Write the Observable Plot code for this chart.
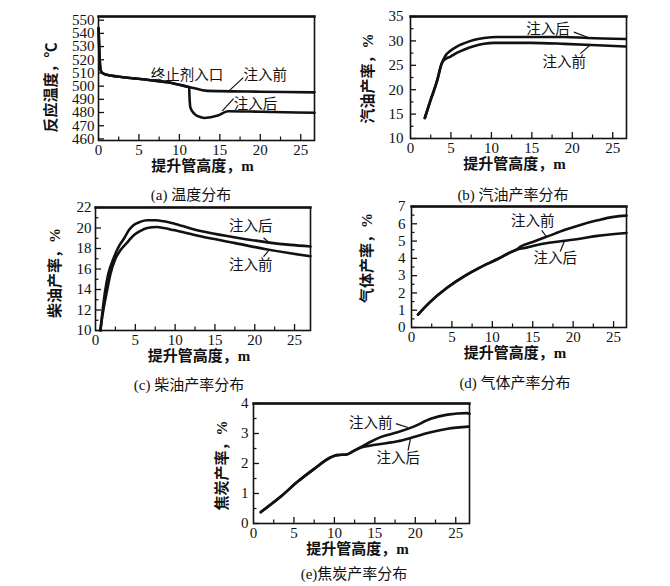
<!DOCTYPE html>
<html>
<head>
<meta charset="utf-8">
<script src="https://cdn.jsdelivr.net/npm/d3@7"></script>
<script src="https://cdn.jsdelivr.net/npm/@observablehq/plot@0.6"></script>
<style>
  html, body { margin: 0; padding: 0; background: #fff; }
  #root { position: relative; width: 670px; height: 586px; overflow: hidden; background: #fff; }
  .cap { position: absolute; transform: translate(-50%, -50%); white-space: nowrap;
         font-family: 'Liberation Serif', 'Noto Sans CJK SC', serif; font-size: 15px; color: #111; }
</style>
</head>
<body>
<div id="root"></div>
<script>
// ---------------- data ----------------
// (a) temperature, °C
const tempBeforeX = [0, 0.05, 0.15, 0.3, 0.6, 1.5, 3, 4.4, 6.5, 8.5, 10, 11, 12, 13.2, 15, 20, 26.7];
const tempBefore  = [544, 536, 520, 511.5, 509.5, 508, 506.8, 505.9, 504.5, 502.9, 501, 499.6, 498.2, 496.6, 496.2, 495.8, 495.3];
const tempAfterX  = [0, 0.05, 0.15, 0.3, 0.6, 1.5, 3, 4.4, 6.5, 8.5, 10, 11, 11.2, 11.25, 11.35, 11.85, 12.67, 13.1, 14.75, 16, 20, 26.7];
const tempAfter   = [544, 536, 520, 511.5, 509.5, 508, 506.8, 505.9, 504.5, 502.9, 501, 499.6, 499.3, 492, 484, 479, 476.4, 475.9, 477.7, 481, 480.6, 479.8];
// (b) gasoline yield, %
const gasBeforeX = [1.77, 2.47, 3.3, 3.84, 4.1, 4.95, 5.78, 6.6, 7.8, 9.1, 10.3, 14.8, 19, 23.1, 26.6];
const gasBefore  = [14.2, 17.8, 21.9, 25.3, 26.0, 26.8, 27.6, 28.2, 28.9, 29.4, 29.6, 29.6, 29.4, 29.1, 28.85];
const gasAfterX  = [1.77, 2.47, 3.3, 3.84, 4.34, 4.95, 5.78, 6.6, 7.8, 9.1, 10.7, 19, 21.9, 26.6];
const gasAfter   = [14.2, 17.8, 21.9, 25.3, 27.0, 28.0, 28.9, 29.5, 30.2, 30.6, 30.8, 30.8, 30.6, 30.4];
// (c) diesel yield, %
const dieselBeforeX = [0.6, 0.84, 1.05, 1.45, 1.87, 2.5, 3.1, 4.0, 4.8, 5.6, 6.5, 7.7, 8.6, 9.8, 13.2, 17.4, 21.6, 27];
const dieselBefore  = [10, 11.3, 12.3, 13.9, 15.5, 17.0, 17.8, 18.6, 19.3, 19.7, 20.0, 20.1, 20.0, 19.8, 19.2, 18.55, 17.9, 17.25];
const dieselAfterX  = [0.62, 0.9, 1.2, 1.6, 2.3, 3.0, 3.6, 4.2, 4.8, 5.6, 6.5, 7.5, 8.6, 10, 13.2, 17.4, 21.6, 24.5, 27];
const dieselAfter   = [10, 12, 13.8, 15.5, 17.1, 18.3, 19.0, 19.8, 20.3, 20.6, 20.75, 20.75, 20.65, 20.4, 19.7, 19.1, 18.6, 18.35, 18.2];
// (d) gas yield, %
const gasYBeforeX = [0.8, 2.35, 4.4, 6.5, 8.5, 10.6, 12.3, 13.0, 13.5, 15, 17, 19, 21, 23, 25, 26.6];
const gasYBefore  = [0.75, 1.5, 2.3, 2.96, 3.48, 3.95, 4.36, 4.5, 4.68, 4.95, 5.3, 5.65, 5.95, 6.2, 6.4, 6.47];
const gasYAfterX  = [0.8, 2.35, 4.4, 6.5, 8.5, 10.6, 12.3, 13.0, 14, 15, 17, 19, 21, 23, 26.6];
const gasYAfter   = [0.75, 1.5, 2.3, 2.96, 3.48, 3.95, 4.36, 4.5, 4.6, 4.72, 4.9, 5.02, 5.15, 5.3, 5.47];
// (e) coke yield, %
const cokeBeforeX = [0.9, 3.3, 5.4, 7.5, 9.5, 10.3, 11.5, 12.4, 13.5, 14.3, 15.7, 17.8, 19.8, 21.9, 24, 26.4, 26.7];
const cokeBefore  = [0.38, 0.88, 1.38, 1.82, 2.2, 2.28, 2.3, 2.42, 2.58, 2.7, 2.88, 3.04, 3.23, 3.49, 3.63, 3.68, 3.66];
const cokeAfterX  = [0.9, 3.3, 5.4, 7.5, 9.5, 10.3, 11.5, 12.4, 13.5, 14.5, 15.7, 17.8, 19.8, 21.9, 24, 26.6];
const cokeAfter   = [0.38, 0.88, 1.38, 1.82, 2.2, 2.28, 2.3, 2.42, 2.55, 2.6, 2.65, 2.74, 2.88, 3.04, 3.16, 3.23];

// tick labels
const xTicks = [0, 5, 10, 15, 20, 25];
const xMinor = [2.5, 7.5, 12.5, 17.5, 22.5];
const tempTicks = [460, 470, 480, 490, 500, 510, 520, 530, 540, 550];
const gasolineTicks = [10, 15, 20, 25, 30, 35];
const gasolineMinor = [12.5, 17.5, 22.5, 27.5, 32.5];
const dieselTicks = [10, 12, 14, 16, 18, 20, 22];
const dieselMinor = [11, 13, 15, 17, 19, 21];
const gasTicks = [0, 1, 2, 3, 4, 5, 6, 7];
const gasMinor = [0.5, 1.5, 2.5, 3.5, 4.5, 5.5, 6.5];
const cokeTicks = [0, 1, 2, 3, 4];
const cokeMinor = [0.5, 1.5, 2.5, 3.5];

const xTitle = "提升管高度，m";
const BEFORE = "注入前", AFTER = "注入后";

// ---------------- drawing ----------------
const NUM = "'Liberation Serif', 'Times New Roman', serif";
const CJK = "'Liberation Serif', 'Noto Sans CJK SC', sans-serif";
const INK = "#111";
const root = document.getElementById("root");

function toRows(xs, ys) { return xs.map((x, i) => ({x, y: ys[i]})); }

function drawPanel(c) {
  const ml = 62, mt = 4, mr = 4, mb = 44;
  const fw = c.fw, fh = c.fh;
  const marks = [
    Plot.frame({stroke: INK, strokeWidth: 1.6}),
    Plot.frame({anchor: "top", stroke: INK, strokeWidth: 2.4}),
    Plot.ruleX(xTicks.filter(v => v > c.xDomain[0]), {x: d => d, insetTop: fh - 6, stroke: INK, strokeWidth: 1.3}),
    Plot.ruleX(xMinor, {x: d => d, insetTop: fh - 3.5, stroke: INK, strokeWidth: 1.2}),
    Plot.ruleY(c.yTicks, {y: d => d, insetRight: fw - 6, stroke: INK, strokeWidth: 1.3}),
    Plot.ruleY(c.yMinor || [], {y: d => d, insetRight: fw - 3.5, stroke: INK, strokeWidth: 1.2}),
    Plot.axisX(xTicks, {tickSize: 0, tickPadding: 4, fontSize: 15, fontFamily: NUM, fill: INK, label: null}),
    Plot.axisY(c.yTicks, {tickSize: 0, tickPadding: c.yPad, fontSize: 15, fontFamily: NUM, fill: INK, label: null}),
    ...c.series.map(s => Plot.line(toRows(s.x, s.y), {x: "x", y: "y", stroke: INK, strokeWidth: 2.6, curve: "monotone-x", strokeLinejoin: "round"})),
    Plot.link(c.leaders, {x1: d => d[0], y1: d => d[1], x2: d => d[2], y2: d => d[3], stroke: INK, strokeWidth: 1.2}),
    Plot.text(c.labels, {x: d => d[1], y: d => d[2], text: d => d[0], fontSize: 14.5, fontFamily: CJK, fill: INK}),
    Plot.text([xTitle], {frameAnchor: "bottom", text: d => d, dy: 26, dx: -4, textAnchor: "middle", lineAnchor: "middle", fontSize: 15, fontWeight: "bold", fontFamily: CJK, fill: INK}),
    Plot.text([c.yTitle], {frameAnchor: "left", text: d => d, rotate: -90, dx: -c.yTitleDx, dy: c.yTitleDy, textAnchor: "middle", lineAnchor: "middle", fontSize: 15, fontWeight: "bold", fontFamily: CJK, fill: INK})
  ];
  const svg = Plot.plot({
    width: ml + fw + mr, height: mt + fh + mb,
    marginLeft: ml, marginTop: mt, marginRight: mr, marginBottom: mb,
    x: {domain: c.xDomain, label: null},
    y: {domain: c.yDomain, label: null},
    style: {fontFamily: NUM, fontSize: "15px", background: "transparent", color: INK, overflow: "visible"},
    marks
  });
  svg.style.position = "absolute";
  svg.style.left = (c.fl - ml) + "px";
  svg.style.top = (c.ft - mt) + "px";
  root.appendChild(svg);
  const cap = document.createElement("div");
  cap.className = "cap";
  cap.textContent = c.caption;
  cap.style.left = c.capX + "px";
  cap.style.top = c.capY + "px";
  root.appendChild(cap);
}

drawPanel({
  fl: 98, ft: 16, fw: 216, fh: 124,
  xDomain: [0, 26.7], yDomain: [458.8, 552.8],
  yTicks: tempTicks, yPad: 4,
  series: [{x: tempBeforeX, y: tempBefore}, {x: tempAfterX, y: tempAfter}],
  labels: [["终止剂入口", 10.95, 508.5], [BEFORE, 20.6, 508.5], [AFTER, 19.4, 486.5]],
  leaders: [[17.9, 506.5, 16.1, 496.2], [16.7, 490.5, 15.3, 481.3]],
  yTitle: "反应温度，℃", yTitleDx: 47, yTitleDy: 9,
  caption: "(a) 温度分布", capX: 191, capY: 193
});

drawPanel({
  fl: 410, ft: 16, fw: 216, fh: 122,
  xDomain: [0, 26.7], yDomain: [10, 35],
  yTicks: gasolineTicks, yMinor: gasolineMinor, yPad: 7,
  series: [{x: gasBeforeX, y: gasBefore}, {x: gasAfterX, y: gasAfter}],
  labels: [[AFTER, 17.0, 32.3], [BEFORE, 19.0, 25.6]],
  leaders: [[20.2, 31.8, 21.9, 30.75], [21.0, 27.4, 22.3, 29.3]],
  yTitle: "汽油产率，%", yTitleDx: 42, yTitleDy: 1,
  caption: "(b) 汽油产率分布", capX: 513, capY: 193
});

drawPanel({
  fl: 95, ft: 207, fw: 215, fh: 123,
  xDomain: [0, 27], yDomain: [10, 22],
  yTicks: dieselTicks, yMinor: dieselMinor, yPad: 4,
  series: [{x: dieselBeforeX, y: dieselBefore}, {x: dieselAfterX, y: dieselAfter}],
  labels: [[AFTER, 19.5, 20.2], [BEFORE, 19.5, 16.4]],
  leaders: [[21.1, 19.05, 22.0, 18.45], [21.1, 17.2, 21.7, 17.75]],
  yTitle: "柴油产率，%", yTitleDx: 40, yTitleDy: 4,
  caption: "(c) 柴油产率分布", capX: 189, capY: 383
});

drawPanel({
  fl: 411, ft: 206, fw: 215, fh: 121,
  xDomain: [0, 26.6], yDomain: [0, 7],
  yTicks: gasTicks, yMinor: gasMinor, yPad: 6,
  series: [{x: gasYBeforeX, y: gasYBefore}, {x: gasYAfterX, y: gasYAfter}],
  labels: [[BEFORE, 15.0, 6.12], [AFTER, 17.8, 4.0]],
  leaders: [[16.1, 5.62, 16.7, 5.25], [18.4, 4.4, 18.9, 4.98]],
  yTitle: "气体产率，%", yTitleDx: 44, yTitleDy: -9,
  caption: "(d) 气体产率分布", capX: 515, capY: 381
});

drawPanel({
  fl: 253, ft: 403, fw: 216, fh: 120,
  xDomain: [0, 26.7], yDomain: [0, 4],
  yTicks: cokeTicks, yMinor: cokeMinor, yPad: 5,
  series: [{x: cokeBeforeX, y: cokeBefore}, {x: cokeAfterX, y: cokeAfter}],
  labels: [[BEFORE, 14.5, 3.33], [AFTER, 17.9, 2.17]],
  leaders: [[17.6, 3.33, 19.1, 3.2], [19.1, 2.43, 19.4, 2.82]],
  yTitle: "焦炭产率，%", yTitleDx: 31, yTitleDy: 2,
  caption: "(e)焦炭产率分布", capX: 354, capY: 572
});
</script>
</body>
</html>
